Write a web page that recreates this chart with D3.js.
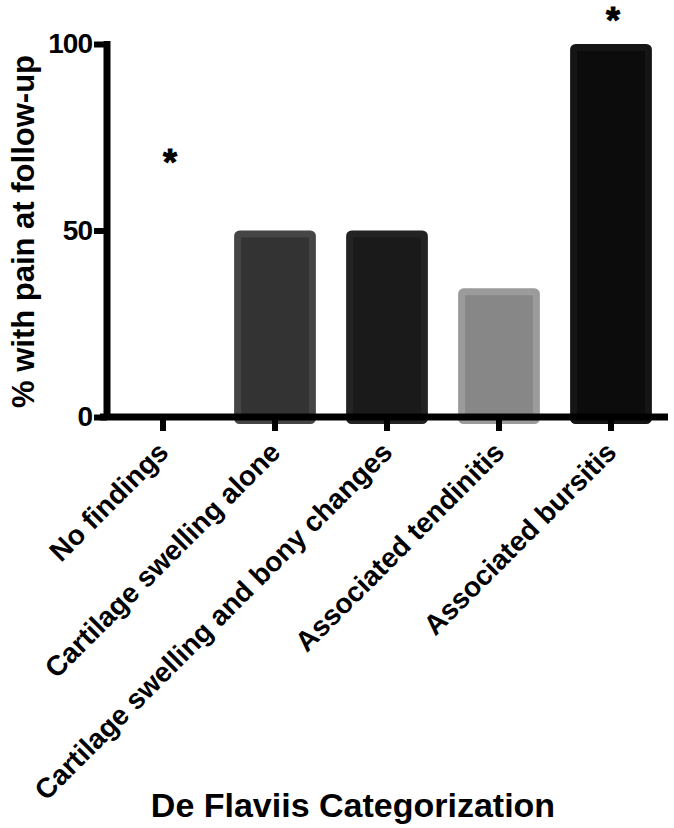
<!DOCTYPE html>
<html>
<head>
<meta charset="utf-8">
<script src="https://cdn.jsdelivr.net/npm/d3@7/dist/d3.min.js"></script>
<style>
  html, body { margin: 0; padding: 0; background: #fff; }
  svg { display: block; font-family: "Liberation Sans", Arial, Helvetica, sans-serif; font-weight: bold; }
</style>
</head>
<body>
<div id="chart"></div>
<script>
(function () {
  "use strict";

  // data
  var categories = ["No findings", "Cartilage swelling alone",
    "Cartilage swelling and bony changes", "Associated tendinitis", "Associated bursitis"];
  var values = [0, 50, 50, 34.5, 100];
  var starred = [true, false, false, false, true];
  var starValues = [70, null, null, null, 108];
  var yTicks = [0, 50, 100];
  var fills = ["#333333", "#333333", "#1a1a1a", "#878787", "#0c0c0c"];
  var edges = ["#454545", "#454545", "#232323", "#9b9b9b", "#151515"];

  var W = 674, H = 828;
  var x0 = 107, x1 = 667, yTop = 44, yZero = 417;

  var svg = d3.select("#chart").append("svg")
    .attr("width", W).attr("height", H);

  var x = d3.scaleBand().domain(categories).range([x0, x1]).paddingInner(0.27).paddingOuter(0.135);
  var y = d3.scaleLinear().domain([0, 100]).range([yZero, yTop]);

  // bars: lighter rim + darker core
  var sw = 7;
  svg.append("g").selectAll("rect").data(categories.filter(function (d, i) { return values[i] > 0; }))
    .enter().append("rect")
    .attr("x", function (d) { return x(d) + sw / 2; })
    .attr("y", function (d) { return y(values[categories.indexOf(d)]) + sw / 2; })
    .attr("width", x.bandwidth() - sw)
    .attr("height", function (d) { return yZero - y(values[categories.indexOf(d)]); })
    .attr("rx", 2)
    .attr("fill", function (d) { return fills[categories.indexOf(d)]; })
    .attr("stroke", function (d) { return edges[categories.indexOf(d)]; })
    .attr("stroke-width", sw);

  // significance asterisks (slightly stroked so they read as heavy as the original)
  svg.append("g").selectAll("text").data(categories.filter(function (d, i) { return starred[i]; }))
    .enter().append("text")
    .attr("x", function (d) { return x(d) + x.bandwidth() / 2 + (categories.indexOf(d) === 0 ? 7 : 2); })
    .attr("y", function (d) { return y(starValues[categories.indexOf(d)]) + 19; })
    .attr("text-anchor", "middle")
    .attr("stroke", "#000").attr("stroke-width", 1)
    .style("font-size", "36px")
    .text("*");

  // y axis
  var ay = svg.append("g").attr("transform", "translate(" + x0 + ",0)")
    .call(d3.axisLeft(y).tickValues(yTicks).tickSize(13).tickPadding(2).tickSizeOuter(0));
  ay.select(".domain").remove();
  ay.selectAll(".tick line").attr("stroke", "#000").attr("stroke-width", 6);
  ay.selectAll("text").attr("fill", "#000").style("font-size", "28px")
    .style("font-family", "'Liberation Sans', Arial, sans-serif").style("font-weight", "bold")
    .style("letter-spacing", "-1px");
  svg.append("line").attr("x1", x0).attr("x2", x0).attr("y1", yTop - 3).attr("y2", yZero + 3)
    .attr("stroke", "#000").attr("stroke-width", 7);

  // x axis
  var ax = svg.append("g").attr("transform", "translate(0," + yZero + ")")
    .call(d3.axisBottom(x).tickSize(14).tickSizeOuter(0));
  ax.select(".domain").remove();
  ax.selectAll(".tick line").attr("stroke", "#000").attr("stroke-width", 6);
  ax.selectAll("text").attr("fill", "#000")
    .style("font-size", "28px")
    .style("font-family", "'Liberation Sans', Arial, sans-serif").style("font-weight", "bold")
    .attr("text-anchor", "end")
    .attr("dy", null)
    .attr("y", 0)
    .attr("transform", "translate(7,37) rotate(-45)");
  svg.append("line").attr("x1", x0 - 7).attr("x2", 668).attr("y1", yZero).attr("y2", yZero)
    .attr("stroke", "#000").attr("stroke-width", 7);

  // axis titles
  svg.append("text")
    .attr("transform", "translate(34," + ((yTop + yZero) / 2 + 1) + ") rotate(-90)")
    .attr("text-anchor", "middle")
    .style("font-size", "31px")
    .text("% with pain at follow-up");
  svg.append("text")
    .attr("x", 353).attr("y", 817)
    .attr("text-anchor", "middle")
    .style("font-size", "34px")
    .text("De Flaviis Categorization");
})();
</script>
</body>
</html>
